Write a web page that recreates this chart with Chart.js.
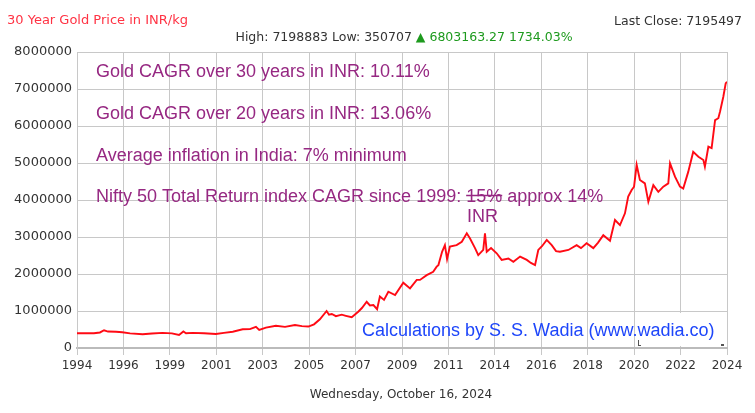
<!DOCTYPE html>
<html><head><meta charset="utf-8">
<script src="https://cdn.jsdelivr.net/npm/chart.js@4"></script>
<style>html,body{margin:0;padding:0;background:#fff;}#wrap{width:755px;height:413px;position:relative;}</style>
</head><body><div id="wrap"><canvas id="c" width="755" height="413"></canvas></div>
<script>
// ---- data ----
const dateYears = [1994.79, 1995.57, 1995.85, 1996.04, 1996.22, 1996.59, 1996.88, 1997.24, 1997.82, 1998.25,
  1998.74, 1999.17, 1999.50, 1999.70, 1999.82, 2000.13, 2000.65, 2001.20, 2001.57, 2001.98,
  2002.44, 2002.77, 2003.05, 2003.20, 2003.51, 2003.97, 2004.39, 2004.85, 2005.17, 2005.47,
  2005.73, 2006.00, 2006.31, 2006.42, 2006.55, 2006.74, 2007.01, 2007.20, 2007.47, 2007.77,
  2007.94, 2008.16, 2008.31, 2008.47, 2008.64, 2008.77, 2008.96, 2009.16, 2009.47, 2009.85,
  2010.16, 2010.47, 2010.62, 2010.93, 2011.23, 2011.39, 2011.47, 2011.64, 2011.77, 2011.87,
  2012.00, 2012.31, 2012.55, 2012.78, 2012.93, 2013.16, 2013.31, 2013.54, 2013.62, 2013.70,
  2013.90, 2014.16, 2014.39, 2014.70, 2014.93, 2015.24, 2015.55, 2015.74, 2015.93, 2016.08,
  2016.25, 2016.47, 2016.70, 2016.90, 2017.08, 2017.47, 2017.85, 2018.05, 2018.31, 2018.62,
  2018.84, 2019.08, 2019.39, 2019.62, 2019.85, 2020.08, 2020.23, 2020.39, 2020.50, 2020.62,
  2020.77, 2021.00, 2021.16, 2021.39, 2021.62, 2021.85, 2022.08, 2022.16, 2022.39, 2022.62,
  2022.77, 2023.00, 2023.23, 2023.47, 2023.70, 2023.77, 2023.93, 2024.08, 2024.24, 2024.39,
  2024.47, 2024.62, 2024.73, 2024.79];
const goldPrices = [400000, 400000, 420000, 480000, 445000, 440000, 425000, 395000, 370000, 390000,
  410000, 395000, 350000, 445000, 400000, 410000, 400000, 380000, 410000, 440000,
  505000, 510000, 570000, 490000, 550000, 600000, 570000, 620000, 590000, 580000,
  640000, 775000, 1000000, 900000, 920000, 860000, 900000, 870000, 830000, 980000,
  1080000, 1250000, 1150000, 1160000, 1050000, 1390000, 1300000, 1520000, 1430000, 1765000,
  1610000, 1840000, 1840000, 1970000, 2060000, 2200000, 2240000, 2600000, 2780000, 2400000,
  2740000, 2780000, 2870000, 3100000, 2960000, 2700000, 2510000, 2650000, 3100000, 2600000,
  2700000, 2560000, 2380000, 2420000, 2330000, 2470000, 2380000, 2300000, 2240000, 2650000,
  2750000, 2920000, 2780000, 2620000, 2600000, 2650000, 2780000, 2700000, 2830000, 2700000,
  2850000, 3050000, 2900000, 3460000, 3320000, 3640000, 4090000, 4270000, 4360000, 4950000,
  4540000, 4450000, 3950000, 4400000, 4220000, 4360000, 4450000, 4990000, 4630000, 4360000,
  4310000, 4760000, 5300000, 5170000, 5080000, 4900000, 5440000, 5400000, 6160000, 6210000,
  6390000, 6790000, 7150000, 7195497];
const xTickLabels = ['1994','1996','1999','2001','2003','2005','2007','2009','2011','2014','2016','2018','2020','2022','2024'];
const xStart = 1994.79, xEnd = 2024.79;
const yTickStep = 1000000, yMax = 8000000;

const titleText = '30 Year Gold Price in INR/kg';
const lastCloseText = 'Last Close: 7195497';
const statsText = 'High: 7198883 Low: 350707 ';
const changeText = '\u25B2 6803163.27 1734.03%';
const dateText = 'Wednesday, October 16, 2024';
const noteLines = ['Gold CAGR over 30 years in INR: 10.11%', 'Gold CAGR over 20 years in INR: 13.06%', 'Average inflation in India: 7% minimum'];
const niftyParts = ['Nifty 50 Total Return index CAGR since 1999: ', '15%', ' approx 14%'];
const inrText = 'INR';
const creditText = 'Calculations by S. S. Wadia (www.wadia.co)';

// ---- build ----
const points = dateYears.map((x, i) => ({x: x, y: goldPrices[i]}));
const xTickValues = xTickLabels.map((_, i) => xStart + i * (xEnd - xStart) / (xTickLabels.length - 1));

const PURPLE = '#962882';
const overlay = {
  id: 'overlay',
  afterDraw(chart) {
    const c = chart.ctx, a = chart.chartArea;
    c.save();
    // white inset box at bottom right
    c.fillStyle = '#ffffff';
    c.fillRect(a.right - 90, a.bottom - 35, 89, 33);
    c.fillStyle = '#555';
    c.fillRect(a.right - 89, a.bottom - 8, 1, 6);
    c.fillRect(a.right - 89, a.bottom - 3, 3, 1);
    c.fillRect(a.right - 6, a.bottom - 4, 3, 2);

    // header
    c.textBaseline = 'middle';
    c.textAlign = 'left';
    c.font = '13px "DejaVu Sans"';
    c.fillStyle = '#ff3344';
    c.fillText(titleText, 7, 21);
    c.font = '12.5px "DejaVu Sans"';
    c.fillStyle = '#333';
    c.textAlign = 'right';
    c.fillText(lastCloseText, 742, 22);
    c.textAlign = 'left';
    const w1 = c.measureText(statsText).width, w2 = c.measureText(changeText).width;
    let sx = 404 - (w1 + w2) / 2;
    c.fillStyle = '#333';
    c.fillText(statsText, sx, 38);
    c.fillStyle = '#1e9a1e';
    c.fillText(changeText, sx + w1, 38);
    // bottom date
    c.textAlign = 'center';
    c.fillStyle = '#333';
    c.font = '12px "DejaVu Sans"';
    c.fillText(dateText, 401, 395);

    // annotations
    c.textAlign = 'left';
    c.textBaseline = 'alphabetic';
    c.font = '18px "Liberation Sans", Arial, sans-serif';
    c.fillStyle = PURPLE;
    const lx = a.left + 19;
    const baselines = [77, 119, 161];
    noteLines.forEach((t, i) => c.fillText(t, lx, baselines[i]));
    let x = lx;
    const by = 202;
    niftyParts.forEach((t, i) => {
      c.fillText(t, x, by);
      const w = c.measureText(t).width;
      if (i === 1) {
        c.strokeStyle = PURPLE;
        c.lineWidth = 1.5;
        c.beginPath();
        c.moveTo(x, by - 6.5);
        c.lineTo(x + w, by - 6.5);
        c.stroke();
      }
      x += w;
    });
    c.fillText(inrText, 467, 222);
    c.fillStyle = '#1e46fa';
    c.fillText(creditText, 362, 336);
    c.restore();
  }
};

new Chart(document.getElementById('c').getContext('2d'), {
  type: 'line',
  data: { datasets: [{ data: points, borderColor: '#ff0a14', borderWidth: 1.9, pointRadius: 0, tension: 0, fill: false }] },
  options: {
    responsive: false, animation: false, devicePixelRatio: 1,
    layout: { padding: { left: 0, right: 28, top: 52, bottom: 0 } },
    plugins: { legend: { display: false }, tooltip: { enabled: false } },
    scales: {
      x: {
        type: 'linear', min: xStart, max: xEnd,
        afterBuildTicks: s => { s.ticks = xTickValues.map(v => ({ value: v })); },
        afterFit: s => { s.height = 65; },
        ticks: { autoSkip: false, maxRotation: 0, padding: 4, color: '#333', font: { family: 'DejaVu Sans', size: 12 },
                 callback: (v, i) => xTickLabels[i] },
        grid: { color: '#c8c8c8', tickLength: 7, tickColor: '#c8c8c8' },
        border: { color: '#bbbbbb', width: 2 }
      },
      y: {
        min: 0, max: yMax,
        afterFit: s => { s.width = 77; },
        ticks: { stepSize: yTickStep, padding: 5, color: '#333', font: { family: 'DejaVu Sans', size: 13 },
                 callback: v => String(v) },
        grid: { color: '#c8c8c8', drawTicks: false },
        border: { color: '#c8c8c8' }
      }
    }
  },
  plugins: [overlay]
});
</script>
</body></html>
